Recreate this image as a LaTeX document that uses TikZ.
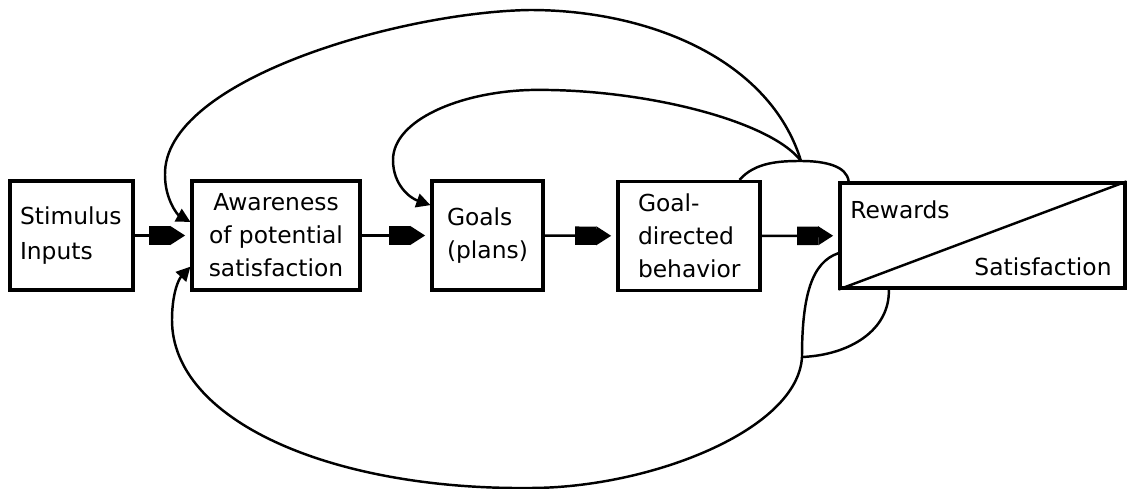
\documentclass[tikz,border=0pt]{standalone}
\usepackage{fontspec}
\setmainfont{DejaVu Sans}
\usetikzlibrary{arrows.meta}

\tikzset{
	stage/.style={draw, line width=1.8pt, minimum height=2.18cm, inner ysep=0pt},
	flow/.style={line width=1.4pt, shorten >=3pt, -{Square[length=12pt,width=10.5pt,sep=0pt]Triangle[length=8.5pt,width=10.5pt]}},
	feedback/.style={line width=1.4pt, -{Triangle[length=8pt,width=8pt]}},
	joinline/.style={line width=1.4pt}
}

\begin{document}
\begin{tikzpicture}[x=0.02cm, y=-0.02cm, font=\fontsize{13.3pt}{18.8pt}\selectfont]
				\useasboundingbox (0,0) rectangle (1127,489);
				\node[stage, text width=2.06cm, inner xsep=0.2cm, align=left] (stim) at (71.5,235.5) {Stimulus\\[1pt]Inputs};
				\node[stage, minimum width=3.36cm, align=center] (aware) at (276,235.5) {Awareness\\of potential\\satisfaction};
				\node[stage, text width=1.62cm, inner xsep=0.3cm, align=left] (goals) at (487.5,235.5) {Goals\\(plans)};
				\node[stage, text width=2.04cm, inner xsep=0.4cm, align=left] (gdb) at (689,236) {Goal-\\directed\\behavior};
				\node[stage, minimum width=5.7cm, minimum height=2.1cm] (rew) at (982.5,235.5) {};
				\node (rewtxt) at (900,210) {Rewards};
				\node (sattxt) at (1043,267) {Satisfaction};
				\draw[joinline] (rew.south west) -- (rew.north east);
				% main chain
				\draw[flow] (stim) -- (aware);
				\draw[flow] (aware) -- (goals);
				\draw[flow] (goals) -- (gdb);
				\draw[flow] (gdb) -- (rew);
				% loops back from the rewards
				\coordinate (fbtop) at (801,161);
				\coordinate (fbbot) at (802,357);
				\draw[joinline] (gdb.48) .. controls (755,162) and (780,161) .. (fbtop) .. controls (825,161) and (847,166) .. (rew.158);
				\draw[feedback] (fbtop) .. controls (770,60) and (650,10) .. (530,10) .. controls (400,12) and (163,80) .. (165,175) .. controls (165,200) and (178,215) .. (aware.171);
				\draw[feedback] (fbtop) .. controls (770,120) and (640,88) .. (530,90) .. controls (460,92) and (393,120) .. (393,160) .. controls (393,185) and (410,198) .. (goals.152);
				\draw[joinline] (rew.187) .. controls (812,262) and (802,295) .. (fbbot);
				\draw[joinline] (rew.210) .. controls (890,330) and (850,355) .. (fbbot);
				\draw[feedback] (fbbot) .. controls (798,430) and (650,488) .. (530,488) .. controls (330,490) and (172,420) .. (172,320) .. controls (172,295) and (178,280) .. (aware.200);
\end{tikzpicture}
\end{document}
